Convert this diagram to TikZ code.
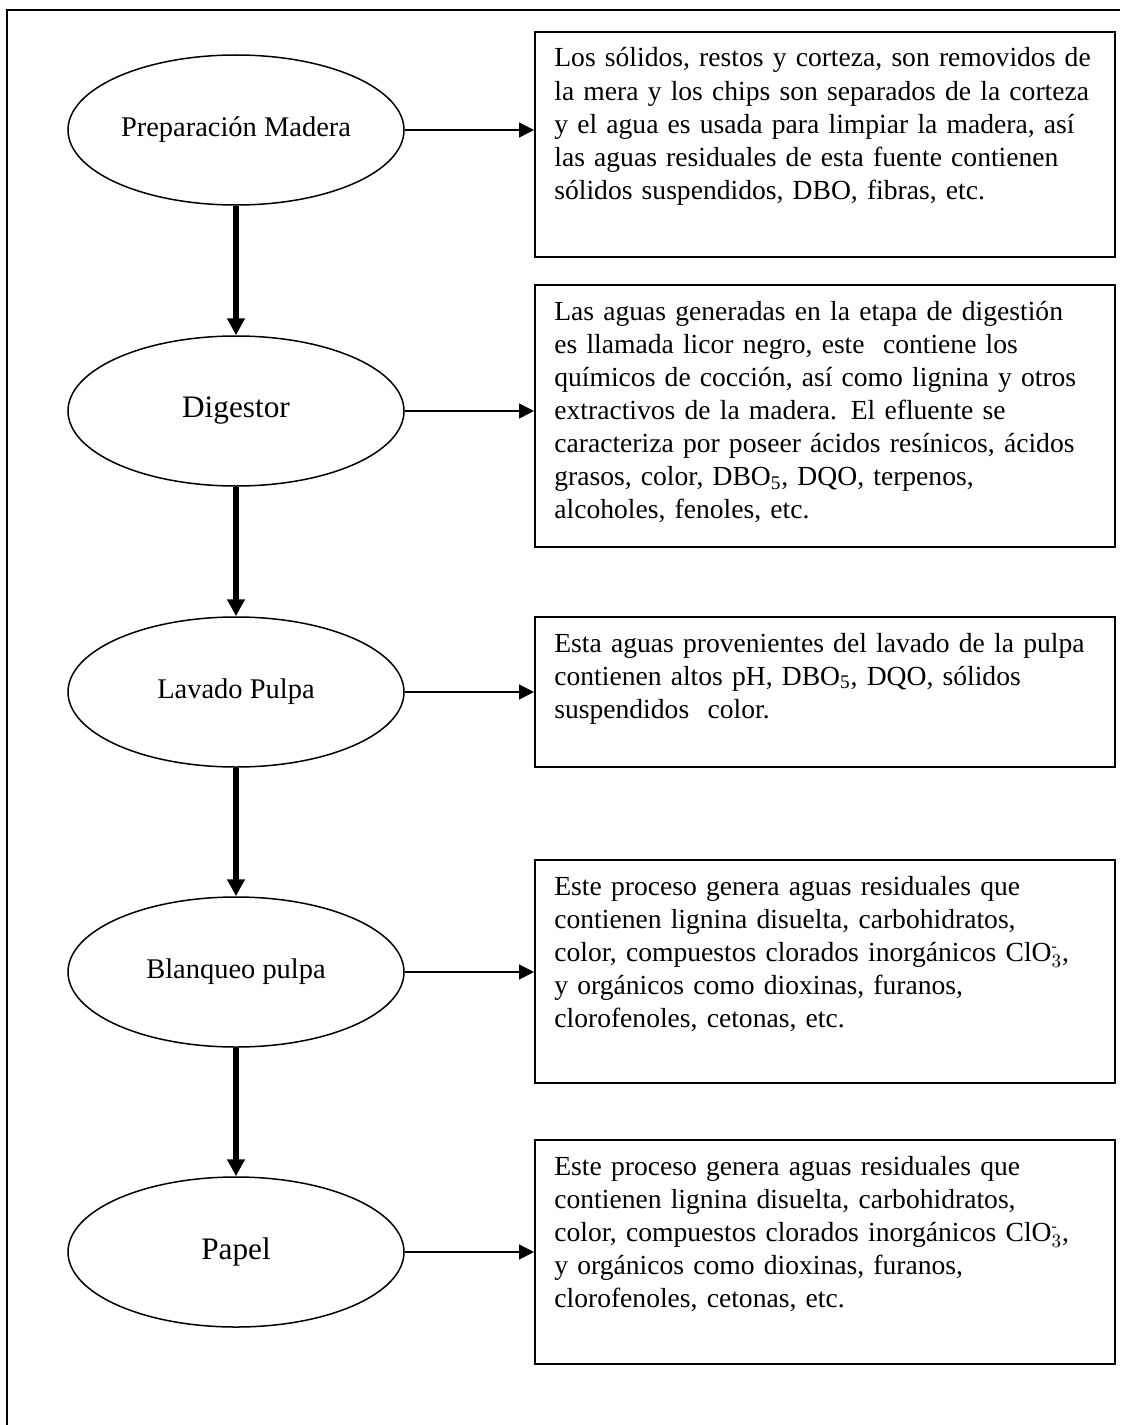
\documentclass[tikz,border=0pt]{standalone}
\usepackage{fontspec}
\setmainfont{Liberation Serif}
\usetikzlibrary{shapes.geometric,arrows.meta}

\begin{document}
\begin{tikzpicture}[x=0.2mm,y=-0.2mm,
    proceso/.style={draw, ellipse, line width=0.3mm, minimum width=67.2mm, minimum height=30mm, inner sep=0pt, font=\fontsize{16.2}{19}\selectfont},
    grande/.style={font=\fontsize{17.8}{21}\selectfont},
    caja/.style={draw, line width=0.4mm, minimum width=116mm, inner sep=0pt},
    texto/.style={anchor=base west, text width=110mm, align=left, inner sep=0pt, font=\fontsize{15.7}{18.8}\selectfont},
    flujo/.style={-{Triangle[length=3.4mm,width=3.4mm]}, line width=1.1mm},
    salida/.style={-{Triangle[length=3mm,width=3mm]}, line width=0.3mm}]
    \useasboundingbox (0,0) rectangle (1120,1425);

    %frame
    \draw[line width=0.4mm] (7,1425) -- (7,10) -- (1120,10);

    %stages
    \node[proceso] (prep) at (236,130) {Preparación Madera};
    \node[proceso, grande] (dig) at (236,411) {Digestor};
    \node[proceso] (lav) at (236,692) {Lavado Pulpa};
    \node[proceso] (blan) at (236,972) {Blanqueo pulpa};
    \node[proceso, grande] (pap) at (236,1252) {Papel};

    %boxes
    \node[caja, minimum height=45mm] (c1) at (825,144.5) {};
    \node[caja, minimum height=52.4mm] (c2) at (825,416) {};
    \node[caja, minimum height=30mm] (c3) at (825,692) {};
    \node[caja, minimum height=44.6mm] (c4) at (825,971.5) {};
    \node[caja, minimum height=44.8mm] (c5) at (825,1252) {};

    %texts
    \node[texto] (t1) at ([shift={(20,36)}]c1.north west) {Los sólidos, restos y corteza, son removidos de\\
        la mera y los chips son separados de la corteza\\
        y el agua es usada para limpiar la madera, así\\
        las aguas residuales de esta fuente contienen\\
        sólidos suspendidos, DBO, fibras, etc.};
    \node[texto] (t2) at ([shift={(20,36)}]c2.north west) {Las aguas generadas en la etapa de digestión\\
        es llamada licor negro, este~ contiene los\\
        químicos de cocción, así como lignina y otros\\
        extractivos de la madera. El efluente se\\
        caracteriza por poseer ácidos resínicos, ácidos\\
        grasos, color, DBO\textsubscript{5}, DQO, terpenos,\\
        alcoholes, fenoles, etc.};
    \node[texto] (t3) at ([shift={(20,36)}]c3.north west) {Esta aguas provenientes del lavado de la pulpa\\
        contienen altos pH, DBO\textsubscript{5}, DQO, sólidos\\
        suspendidos~ color.};
    \node[texto] (t4) at ([shift={(20,36)}]c4.north west) {Este proceso genera aguas residuales que\\
        contienen lignina disuelta, carbohidratos,\\
        color, compuestos clorados inorgánicos ClO$_{3}^{\mbox{\fontsize{9}{9}\selectfont -}}$,\\
        y orgánicos como dioxinas, furanos,\\
        clorofenoles, cetonas, etc.};
    \node[texto] (t5) at ([shift={(20,36)}]c5.north west) {Este proceso genera aguas residuales que\\
        contienen lignina disuelta, carbohidratos,\\
        color, compuestos clorados inorgánicos ClO$_{3}^{\mbox{\fontsize{9}{9}\selectfont -}}$,\\
        y orgánicos como dioxinas, furanos,\\
        clorofenoles, cetonas, etc.};

    %flow
    \draw[flujo] (prep) -- (dig);
    \draw[flujo] (dig) -- (lav);
    \draw[flujo] (lav) -- (blan);
    \draw[flujo] (blan) -- (pap);

    %outputs
    \draw[salida] (prep.east) -- (prep.east -| c1.west);
    \draw[salida] (dig.east) -- (dig.east -| c2.west);
    \draw[salida] (lav.east) -- (lav.east -| c3.west);
    \draw[salida] (blan.east) -- (blan.east -| c4.west);
    \draw[salida] (pap.east) -- (pap.east -| c5.west);
\end{tikzpicture}
\end{document}
